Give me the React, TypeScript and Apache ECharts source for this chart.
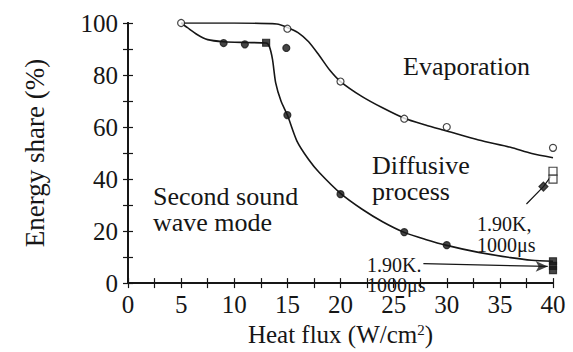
import React, { useEffect, useRef } from "react";
import * as echarts from "echarts";

const FONT = "'Liberation Serif', 'Times New Roman', serif";
const INK = "#161616";

// tick labels: x 0..40 step 5, y 0..100 step 20
const xTicks = [0, 5, 10, 15, 20, 25, 30, 35, 40];
const yTicks = [0, 20, 40, 60, 80, 100];

// fitted curve: evaporation boundary (upper curve)
const evaporationCurve: number[][] = [
  [5, 100], [10, 100], [14, 99.6], [15, 98.3], [16, 96.3], [17, 92.8], [18, 87.5],
  [19, 81.8], [20, 77.5], [22, 71.8], [24, 67.3], [26, 63.4], [28, 60.8],
  [30, 58.5], [33, 55.0], [36, 52.2], [38, 49.8], [40, 48.2],
];

// fitted curve: second sound wave mode boundary (lower curve)
const secondSoundCurve: number[][] = [
  [5, 100], [5.6, 98.2], [6.5, 95.6], [7.5, 93.6], [9, 92.8], [11, 92.5], [13, 92.3],
  [13.3, 91], [13.6, 86], [13.9, 77], [14.4, 70], [15, 64.6], [15.9, 54.6],
  [17, 47.5], [18, 42.5], [20, 34.5], [22, 28.5], [24, 23.5], [26, 19.5],
  [28, 16.8], [30, 14.5], [33, 11.8], [36, 9.8], [38, 8.8], [40, 8.4],
];

// measured points
const openCircles: number[][] = [
  [5, 100], [15, 97.8], [20, 77.5], [26, 63.2], [30, 60], [40, 52],
];
const filledCircles: number[][] = [
  [9, 92.3], [11, 91.8], [14.9, 90.4], [15, 64.6], [20, 34.2], [26, 19.6], [30, 14.6],
];
const filledSquares: number[][] = [[13, 92.4], [40, 5], [40, 6.6], [40, 8.4]];
const openSquares: number[][] = [[40, 43], [40, 40]];
const filledDiamonds: number[][] = [[39.1, 37.1]];

// annotation leader lines (1.90K, 1000us)
const upperLeader: number[][] = [[37.5, 30.4], [39.1, 37.1], [39.8, 41]];
const lowerLeader: number[][] = [[27.8, 7.5], [39.5, 6.4]];

export default function App() {
  const ref = useRef<HTMLDivElement>(null);
  useEffect(() => {
    if (!ref.current) return;
    const chart = echarts.init(ref.current, null, { renderer: "svg" });
    const axisLine = { show: true, lineStyle: { color: INK, width: 2 } };
    const tick = { show: true, inside: true, length: 5, lineStyle: { color: INK, width: 1.2 } };
    const minor = { show: true, splitNumber: 2, length: 5, lineStyle: { color: INK, width: 1.2 } };
    const label = { fontFamily: FONT, fontSize: 25, color: INK };
    const lineSeries = (data: number[][], extra: any = {}) => ({
      type: "line", data, showSymbol: false, smooth: 0.25,
      lineStyle: { color: INK, width: 1.6 }, silent: true, z: 2, ...extra,
    });
    const scatter = (data: number[][], symbol: string, filled: boolean, size = 7) => ({
      type: "scatter", data, symbol, symbolSize: size,
      itemStyle: { color: filled ? INK : "#fff", borderColor: INK, borderWidth: 1.2 }, z: 3,
    });
    const txt = (text: string, x: number, y: number, size = 26, lh = 26) => ({
      type: "text", left: x, top: y,
      style: { text, fontFamily: FONT, fontSize: size, lineHeight: lh, fill: INK },
    });
    chart.setOption({
      animation: false,
      backgroundColor: "#fff",
      grid: { left: 128, right: 20, top: 23, bottom: 49, show: false },
      xAxis: [
        {
          type: "value", min: 0, max: 40, interval: 5, position: "bottom",
          axisLine, axisTick: tick, minorTick: minor, splitLine: { show: false },
          axisLabel: { ...label, margin: 9, formatter: (v: number) => (xTicks.includes(v) ? String(v) : "") },
          name: "Heat flux (W/cm{sup|2})", nameLocation: "middle", nameGap: 27,
          nameTextStyle: {
            fontFamily: FONT, fontSize: 25, color: INK,
            rich: { sup: { fontFamily: FONT, fontSize: 15, color: INK, verticalAlign: "top", padding: [0, 0, 10, 0] } },
          },
        },
        {
          type: "value", min: 0, max: 40, interval: 5, position: "top",
          axisLine, axisTick: tick, minorTick: minor, splitLine: { show: false }, axisLabel: { show: false },
        },
      ],
      yAxis: [
        {
          type: "value", min: 0, max: 100, interval: 20, position: "left",
          axisLine, axisTick: tick, minorTick: minor, splitLine: { show: false },
          axisLabel: { ...label, margin: 10, formatter: (v: number) => (yTicks.includes(v) ? String(v) : "") },
          name: "Energy share (%)", nameLocation: "middle", nameGap: 80,
          nameTextStyle: { fontFamily: FONT, fontSize: 27, color: INK },
        },
        {
          type: "value", min: 0, max: 100, interval: 20, position: "right",
          axisLine, axisTick: tick, minorTick: minor, splitLine: { show: false }, axisLabel: { show: false },
        },
      ],
      series: [
        lineSeries(evaporationCurve),
        lineSeries(secondSoundCurve),
        lineSeries(upperLeader, { smooth: false, lineStyle: { color: INK, width: 1.2 } }),
        lineSeries(lowerLeader, { smooth: false, lineStyle: { color: INK, width: 1.2 } }),
        scatter(openCircles, "circle", false),
        scatter(filledCircles, "circle", true),
        scatter(filledSquares, "rect", true),
        scatter(openSquares, "rect", false, 8),
        scatter(filledDiamonds, "diamond", true, 9),
        {
          type: "scatter", data: [lowerLeader[1]], symbol: "arrow", symbolSize: [8, 12],
          symbolRotate: -90, itemStyle: { color: INK }, z: 3,
        },
      ],
      graphic: [
        txt("Evaporation", 403, 53),
        txt("Diffusive\nprocess", 372, 152),
        txt("Second sound\nwave mode", 153, 183),
        txt("1.90K,\n1000\u03bcs", 477, 213, 20, 21),
        txt("1.90K.\n1000\u03bcs", 367, 255, 20, 20),
      ],
    });
    return () => chart.dispose();
  }, []);
  return (
    <div ref={ref} style={{ position: "fixed", left: 0, top: 0, width: 573, height: 352 }} />
  );
}
